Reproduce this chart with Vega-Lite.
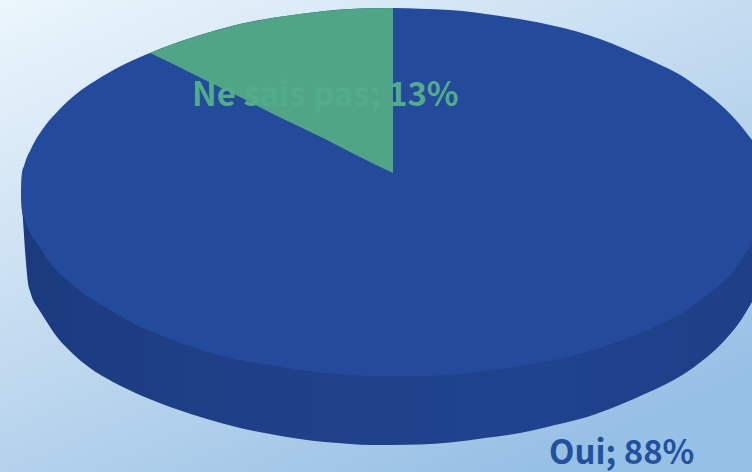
{"$schema":"https://vega.github.io/schema/vega-lite/v6.json","width":752,"height":472,"padding":0,"autosize":{"type":"fit","contains":"padding"},"background":"#c5dcf0","view":{"stroke":null},
"encoding":{},
"layer":[
{"data":{"values":[{"x0":0,"x1":752,"y0":0,"y1":472}]},"mark":{"type":"rect","fill":{"gradient":"linear","x1":0,"y1":0,"x2":0.7,"y2":1,"stops":[{"offset":0,"color":"#ecf6fc"},{"offset":0.5,"color":"#c3dbf0"},{"offset":1,"color":"#97c0e5"}]}},"encoding":{"x":{"field":"x0","type":"quantitative","scale":{"domain":[0,752]},"axis":null},"x2":{"field":"x1"},"y":{"field":"y0","type":"quantitative","scale":{"domain":[0,472],"reverse":true},"axis":null},"y2":{"field":"y1"}}},
{"data":{"values":[{"x":21,"yTop":192,"yBottom":192},{"x":22,"yTop":192,"yBottom":205},{"x":23,"yTop":192,"yBottom":220},{"x":24,"yTop":192,"yBottom":235},{"x":25,"yTop":192,"yBottom":250},{"x":26,"yTop":192,"yBottom":263},{"x":27,"yTop":192,"yBottom":274},{"x":28,"yTop":192,"yBottom":283},{"x":30,"yTop":192,"yBottom":291},{"x":33,"yTop":192,"yBottom":300},{"x":38,"yTop":192,"yBottom":308},{"x":43,"yTop":192,"yBottom":316},{"x":50,"yTop":192,"yBottom":327},{"x":57,"yTop":192,"yBottom":337},{"x":65,"yTop":192,"yBottom":346},{"x":73,"yTop":192,"yBottom":354},{"x":90,"yTop":192,"yBottom":368},{"x":113,"yTop":192,"yBottom":382},{"x":140,"yTop":192,"yBottom":395},{"x":173,"yTop":192,"yBottom":408},{"x":207,"yTop":192,"yBottom":419},{"x":240,"yTop":192,"yBottom":428},{"x":270,"yTop":192,"yBottom":434},{"x":300,"yTop":192,"yBottom":439},{"x":325,"yTop":192,"yBottom":442},{"x":350,"yTop":192,"yBottom":444},{"x":372,"yTop":192,"yBottom":445},{"x":393,"yTop":192,"yBottom":445},{"x":420,"yTop":192,"yBottom":444.5},{"x":450,"yTop":192,"yBottom":442.5},{"x":485,"yTop":192,"yBottom":438},{"x":520,"yTop":192,"yBottom":433},{"x":555,"yTop":192,"yBottom":425},{"x":587,"yTop":192,"yBottom":417},{"x":617,"yTop":192,"yBottom":406},{"x":647,"yTop":192,"yBottom":393},{"x":670,"yTop":192,"yBottom":382},{"x":687,"yTop":192,"yBottom":372},{"x":702,"yTop":192,"yBottom":361},{"x":714,"yTop":192,"yBottom":351},{"x":725,"yTop":192,"yBottom":340},{"x":739,"yTop":192,"yBottom":323},{"x":752,"yTop":192,"yBottom":302}]},"mark":{"type":"area","interpolate":"monotone","clip":true,"fill":{"gradient":"linear","x1":0,"y1":0,"x2":1,"y2":0,"stops":[{"offset":0,"color":"#1c3a7e"},{"offset":0.3,"color":"#1f4088"},{"offset":0.7,"color":"#20438e"},{"offset":1,"color":"#1f3f88"}]}},"encoding":{"x":{"field":"x","type":"quantitative","scale":{"domain":[0,752]},"axis":null},"y":{"field":"yTop","type":"quantitative","scale":{"domain":[0,472],"reverse":true},"axis":null},"y2":{"field":"yBottom"}}},
{"data":{"values":[{"x":21,"yTop":192,"yBottom":192},{"x":21.3,"yTop":180,"yBottom":204},{"x":22,"yTop":173,"yBottom":211},{"x":24,"yTop":166,"yBottom":218},{"x":27,"yTop":157,"yBottom":226},{"x":30,"yTop":151,"yBottom":233},{"x":35,"yTop":141,"yBottom":241},{"x":40,"yTop":133,"yBottom":248},{"x":48,"yTop":122,"yBottom":260},{"x":57,"yTop":112,"yBottom":271},{"x":68,"yTop":101,"yBottom":281},{"x":80,"yTop":91,"yBottom":291},{"x":95,"yTop":81,"yBottom":301},{"x":110,"yTop":72,"yBottom":310},{"x":125,"yTop":64,"yBottom":319},{"x":150,"yTop":53,"yBottom":331},{"x":173,"yTop":44,"yBottom":340},{"x":207,"yTop":33,"yBottom":352},{"x":240,"yTop":24,"yBottom":360},{"x":275,"yTop":17.5,"yBottom":366},{"x":300,"yTop":14,"yBottom":370},{"x":325,"yTop":11,"yBottom":373},{"x":350,"yTop":9,"yBottom":375},{"x":372,"yTop":8.3,"yBottom":376},{"x":393,"yTop":8,"yBottom":376},{"x":420,"yTop":8.7,"yBottom":376},{"x":450,"yTop":10,"yBottom":375},{"x":475,"yTop":12.5,"yBottom":372},{"x":500,"yTop":16,"yBottom":369},{"x":525,"yTop":20,"yBottom":365},{"x":550,"yTop":25,"yBottom":361},{"x":575,"yTop":31,"yBottom":355},{"x":600,"yTop":39,"yBottom":348},{"x":625,"yTop":49,"yBottom":339},{"x":650,"yTop":60,"yBottom":329},{"x":665,"yTop":67,"yBottom":322},{"x":682,"yTop":76,"yBottom":313},{"x":695,"yTop":85,"yBottom":304},{"x":709,"yTop":95,"yBottom":294},{"x":722,"yTop":106,"yBottom":283},{"x":735,"yTop":119,"yBottom":269},{"x":745,"yTop":131,"yBottom":254},{"x":752,"yTop":140,"yBottom":243}]},"mark":{"type":"area","interpolate":"monotone","clip":true,"fill":"#244a9b"},"encoding":{"x":{"field":"x","type":"quantitative","scale":{"domain":[0,752]},"axis":null},"y":{"field":"yTop","type":"quantitative","scale":{"domain":[0,472],"reverse":true},"axis":null},"y2":{"field":"yBottom"}}},
{"data":{"values":[{"x":150,"yTop":53,"yBottom":53},{"x":173,"yTop":44,"yBottom":64},{"x":207,"yTop":33,"yBottom":81},{"x":240,"yTop":24,"yBottom":97},{"x":275,"yTop":17.5,"yBottom":115},{"x":300,"yTop":14,"yBottom":127},{"x":325,"yTop":11,"yBottom":139},{"x":350,"yTop":9,"yBottom":152},{"x":372,"yTop":8.3,"yBottom":163},{"x":393,"yTop":8,"yBottom":173}]},"mark":{"type":"area","interpolate":"linear","fill":"#4fa586"},"encoding":{"x":{"field":"x","type":"quantitative","scale":{"domain":[0,752]},"axis":null},"y":{"field":"yTop","type":"quantitative","scale":{"domain":[0,472],"reverse":true},"axis":null},"y2":{"field":"yBottom"}}},
{"data":{"values":[{"label":"Ne sais pas; 13%","x":192,"y":106,"series":"Ne sais pas"},{"label":"Oui; 88%","x":549,"y":464,"series":"Oui"}]},"mark":{"type":"text","align":"left","baseline":"alphabetic","font":"Noto Sans CJK JP","fontWeight":"bold","fontSize":33},"encoding":{"x":{"field":"x","type":"quantitative","scale":{"domain":[0,752]},"axis":null},"y":{"field":"y","type":"quantitative","scale":{"domain":[0,472],"reverse":true},"axis":null},"text":{"field":"label"},"color":{"field":"series","type":"nominal","scale":{"domain":["Ne sais pas","Oui"],"range":["#52ac8c","#2450a0"]},"legend":null}}}
]}
